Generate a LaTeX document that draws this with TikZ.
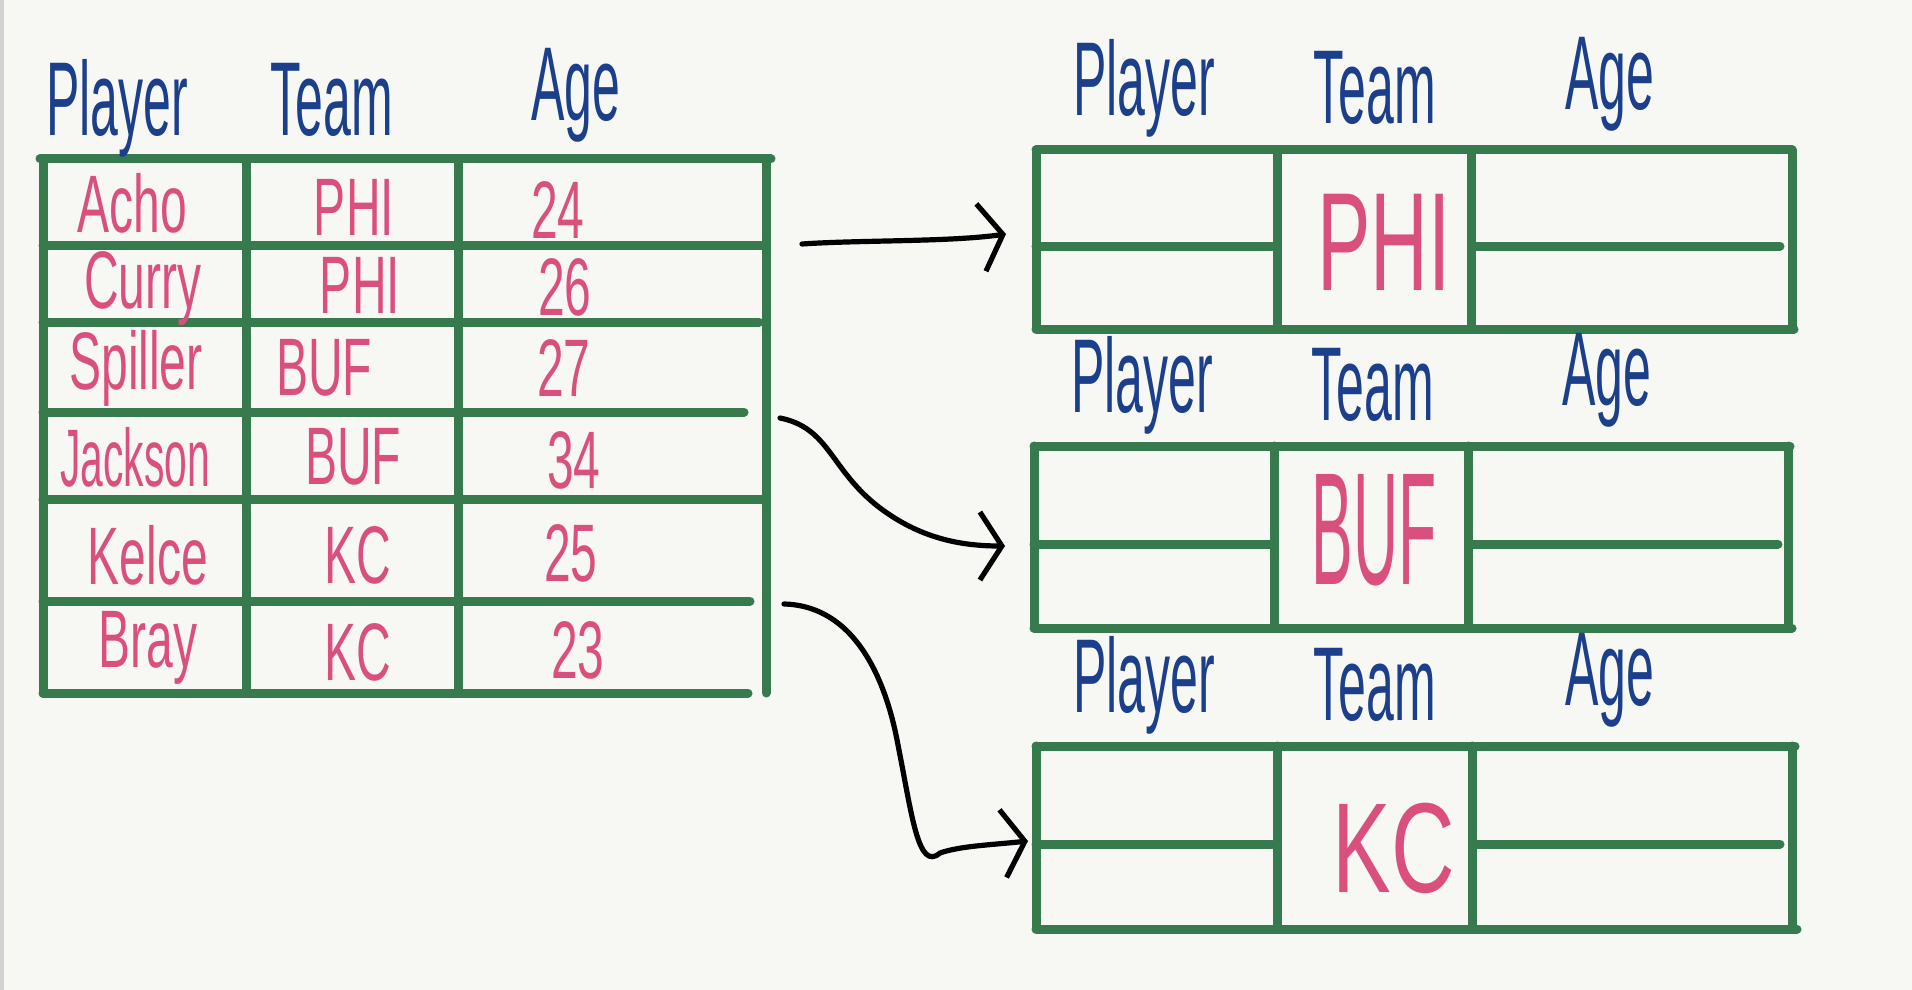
\documentclass[tikz,border=0pt]{standalone}
\usepackage{fontspec}
\setmainfont{Liberation Sans}
\usetikzlibrary{arrows.meta}
\definecolor{bgc}{HTML}{F7F8F4}
\definecolor{tgreen}{HTML}{377A4D}
\definecolor{hblue}{HTML}{1B3F8A}
\definecolor{hpink}{HTML}{D9507F}
\newcommand{\hstr}[1]{\scalebox{1}[2.1]{#1}}
\newcommand{\dstr}[1]{\scalebox{1}[1.7]{#1}}
\tikzset{
  grid/.style={draw=tgreen, line width=4.5pt, line cap=round},
  hdr/.style={text=hblue, font=\fontsize{25}{25}\selectfont, inner sep=0pt},
  dat/.style={text=hpink, font=\fontsize{24}{24}\selectfont, inner sep=0pt},
  big/.style={text=hpink, font=\fontsize{40}{40}\selectfont, inner sep=0pt},
  arr/.style={draw=black, line width=2.6pt, line cap=round,
    -{Straight Barb[length=11pt,width=34pt,line width=2.6pt]}},
}
\begin{document}
\begin{tikzpicture}[x=0.5pt,y=-0.5pt]
\useasboundingbox (0,0) rectangle (1912,990);
\fill[bgc] (0,0) rectangle (1912,990);
\fill[gray!35] (0,0) rectangle (4,990);

% ---------- left table ----------
\draw[grid] (40,159) -- (771,159);
\draw[grid] (43,245) -- (764,245);
\draw[grid] (43,322) -- (759,322);
\draw[grid] (43,412) -- (744,412);
\draw[grid] (43,499) -- (762,499);
\draw[grid] (43,601) -- (750,601);
\draw[grid] (43,693) -- (748,693);
\draw[grid] (43,159) -- (43,693);
\draw[grid] (246,159) -- (246,693);
\draw[grid] (458,159) -- (458,693);
\draw[grid] (766,159) -- (766,693);

\node[hdr] (lhp) at (117,108) {\hstr{Player}};
\node[hdr] (lht) at (332,100) {\hstr{Team}};
\node[hdr] (lha) at (576,95) {\hstr{Age}};

\node[dat] (p1) at (132,203) {\dstr{Acho}};
\node[dat] (t1) at (354,207) {\dstr{PHI}};
\node[dat] (a1) at (558,210) {\dstr{24}};
\node[dat] (p2) at (143,288) {\dstr{Curry}};
\node[dat] (t2) at (360,285) {\dstr{PHI}};
\node[dat] (a2) at (565,287) {\dstr{26}};
\node[dat] (p3) at (136,368) {\dstr{Spiller}};
\node[dat] (t3) at (324,368) {\dstr{BUF}};
\node[dat] (a3) at (564,368) {\dstr{27}};
\node[dat] (p4) at (135,457) {\scalebox{0.85}[1.7]{Jackson}};
\node[dat] (t4) at (353,457) {\dstr{BUF}};
\node[dat] (a4) at (574,460) {\dstr{34}};
\node[dat] (p5) at (148,555) {\dstr{Kelce}};
\node[dat] (t5) at (358,555) {\dstr{KC}};
\node[dat] (a5) at (571,553) {\dstr{25}};
\node[dat] (p6) at (148,648) {\dstr{Bray}};
\node[dat] (t6) at (358,652) {\dstr{KC}};
\node[dat] (a6) at (578,650) {\dstr{23}};

% ---------- right table 1 (PHI) ----------
\draw[grid] (1036,150) -- (1792,150);
\draw[grid] (1036,329) -- (1794,329);
\draw[grid] (1036,150) -- (1036,329);
\draw[grid] (1792,150) -- (1792,329);
\draw[grid] (1277,150) -- (1277,329);
\draw[grid] (1471,150) -- (1471,329);
\draw[grid] (1036,246) -- (1272,246);
\draw[grid] (1476,246) -- (1780,246);
\node[hdr] (r1p) at (1144,88) {\hstr{Player}};
\node[hdr] (r1t) at (1375,88) {\hstr{Team}};
\node[hdr] (r1a) at (1610,84) {\hstr{Age}};
\node[big] (r1team) at (1384,242) {\scalebox{1.0}[1.75]{PHI}};
\coordinate (e1) at (1006,234);

% ---------- right table 2 (BUF) ----------
\draw[grid] (1034,446) -- (1790,446);
\draw[grid] (1034,628) -- (1792,628);
\draw[grid] (1034,446) -- (1034,628);
\draw[grid] (1788,446) -- (1788,628);
\draw[grid] (1274,446) -- (1274,628);
\draw[grid] (1468,446) -- (1468,628);
\draw[grid] (1034,544) -- (1270,544);
\draw[grid] (1472,544) -- (1778,544);
\node[hdr] (r2p) at (1142,385) {\hstr{Player}};
\node[hdr] (r2t) at (1373,385) {\hstr{Team}};
\node[hdr] (r2a) at (1607,380) {\hstr{Age}};
\node[big] (r2team) at (1374,530) {\scalebox{0.78}[2.0]{BUF}};
\coordinate (e2) at (1005,546);

% ---------- right table 3 (KC) ----------
\draw[grid] (1036,746) -- (1795,746);
\draw[grid] (1036,929) -- (1797,929);
\draw[grid] (1036,746) -- (1036,929);
\draw[grid] (1792,746) -- (1792,929);
\draw[grid] (1277,746) -- (1277,929);
\draw[grid] (1472,746) -- (1472,929);
\draw[grid] (1036,844) -- (1272,844);
\draw[grid] (1476,844) -- (1780,844);
\node[hdr] (r3p) at (1144,685) {\hstr{Player}};
\node[hdr] (r3t) at (1375,685) {\hstr{Team}};
\node[hdr] (r3a) at (1610,680) {\hstr{Age}};
\node[big] (r3team) at (1394,848) {\scalebox{1.1}[1.6]{KC}};
\coordinate (e3) at (1028,841);

% ---------- arrows ----------
\coordinate (s1) at (802,244);
\coordinate (s2) at (780,418);
\coordinate (s3) at (784,604);
\draw[arr] (s1) .. controls (860,240) and (950,242) .. (e1);
\draw[arr] (s2) .. controls (830,428) and (830,470) .. (880,508)
               .. controls (920,538) and (960,546) .. (e2);
\draw[arr] (s3) .. controls (860,606) and (888,690) .. (898,745)
               .. controls (912,815) and (918,872) .. (940,853)
               .. controls (960,846) and (990,845) .. (e3);
\end{tikzpicture}
\end{document}
